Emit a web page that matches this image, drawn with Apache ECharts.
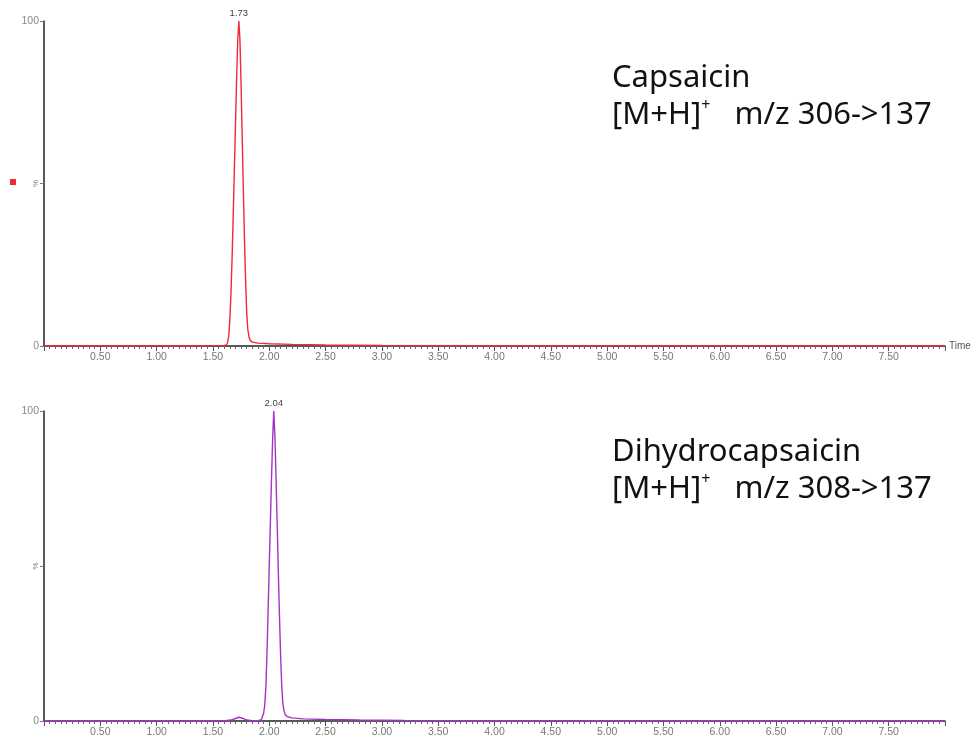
<!DOCTYPE html>
<html>
<head>
<meta charset="utf-8">
<script src="https://cdn.jsdelivr.net/npm/echarts@6/dist/echarts.min.js"></script>
<style>html,body{margin:0;padding:0;background:#fff}#c{width:979px;height:742px}</style>
</head>
<body>
<div id="c"></div>
<script>
// Retention time (min) vs relative intensity (%)
const capsaicinTime = [0,0.5,1.0,1.5,1.60,1.62,1.63,1.64,1.65,1.66,1.67,1.68,1.69,1.70,1.71,1.72,1.73,1.74,1.75,1.76,1.77,1.78,1.79,1.80,1.81,1.82,1.83,1.85,1.90,2.00,2.20,2.50,3.00,4.00,5.00,6.00,7.00,8.00];
const capsaicinInt  = [0.1,0.1,0.1,0.1,0.2,0.3,1,3,8,16,27,40,54,68,82,94,100,94,80,64,48,33,20,10,5,2.8,1.8,1.2,0.9,0.7,0.5,0.3,0.15,0.1,0.1,0.1,0.1,0.1];
const dihydroTime = [0,0.5,1.0,1.5,1.62,1.66,1.70,1.73,1.76,1.80,1.85,1.90,1.93,1.94,1.95,1.96,1.97,1.98,1.99,2.00,2.01,2.02,2.03,2.04,2.05,2.06,2.07,2.08,2.09,2.10,2.11,2.12,2.13,2.14,2.16,2.20,2.30,2.50,2.80,3.20,4.00,5.00,6.00,7.00,8.00];
const dihydroInt  = [0.1,0.1,0.1,0.1,0.15,0.3,0.8,1.2,0.9,0.3,0.1,0.1,0.4,1,2.5,5,11,22,36,50,64,78,91,100,92,79,64,49,35,22,12,6,3.5,2.2,1.4,1.0,0.7,0.5,0.3,0.15,0.1,0.1,0.1,0.1,0.1];
const peakLabels = ['1.73','2.04'];
const compoundNames = ['Capsaicin','Dihydrocapsaicin'];
const transitions = ['306->137','308->137'];
const xTickFormat = v => (v <= 0 || v >= 8) ? '' : v.toFixed(2);

const pairs = (t, v) => t.map((x, i) => [x, v[i]]);

const FONT = 'Noto Sans';
const SMALL = 'Liberation Sans';
function xAxisCfg(gi, withName) {
  return {
    type: 'value', gridIndex: gi, min: 0, max: 8, interval: 0.5,
    name: withName ? 'Time' : '', nameLocation: 'end', nameGap: 4,
    nameTextStyle: {fontSize: 10, color: '#555', fontFamily: SMALL},
    axisLine: {show: true, onZero: false, lineStyle: {color: '#222', width: 1.5}},
    axisTick: {show: true, length: 5, lineStyle: {color: '#555'}},
    minorTick: {show: true, splitNumber: 10, length: 3, lineStyle: {color: '#666'}},
    splitLine: {show: false}, minorSplitLine: {show: false},
    axisLabel: {formatter: xTickFormat, fontSize: 10.5, color: '#777', margin: 6, fontFamily: SMALL}
  };
}
function yAxisCfg(gi) {
  return {
    type: 'value', gridIndex: gi, min: 0, max: 100, interval: 50,
    axisLine: {show: true, lineStyle: {color: '#222', width: 1.5}},
    axisTick: {show: true, length: 4, lineStyle: {color: '#777'}},
    splitLine: {show: false},
    axisLabel: {formatter: v => (v === 50 ? '' : String(v)), fontSize: 10.5, color: '#888', margin: 5, fontFamily: SMALL}
  };
}
// overlay axis only carrying the rotated "%" unit at mid-height
function yUnitCfg(gi) {
  return {
    type: 'value', gridIndex: gi, min: 0, max: 100, interval: 50, position: 'left',
    axisLine: {show: false}, axisTick: {show: false}, splitLine: {show: false},
    axisLabel: {formatter: v => (v === 50 ? '%' : ''), rotate: 90, fontSize: 8, color: '#777', margin: 4, fontFamily: SMALL}
  };
}
function titleCfg(i, top) {
  return {
    left: 607, top: top,
    text: '{a|' + compoundNames[i] + '}\n{a|[M+H]}{s|+}{a|   m/z ' + transitions[i] + '}',
    textStyle: {rich: {
      a: {fontSize: 31, lineHeight: 37, color: '#111', fontFamily: FONT, fontWeight: 'normal'},
      s: {fontSize: 16, lineHeight: 20, verticalAlign: 'top', color: '#111', fontFamily: FONT, fontWeight: 'normal'}
    }}
  };
}
function peakMark(label) {
  return {
    symbol: 'circle', symbolSize: 0.1, silent: true,
    data: [{type: 'max'}],
    label: {show: true, position: 'top', distance: 3, formatter: label, fontSize: 9.5, color: '#444', fontFamily: SMALL}
  };
}

const chart = echarts.init(document.getElementById('c'));
chart.setOption({
  animation: false,
  backgroundColor: '#fff',
  title: [titleCfg(0, 55), titleCfg(1, 429)],
  legend: {
    data: [{name: compoundNames[0], icon: 'rect'}],
    left: 10, top: 179, padding: 0, itemWidth: 6, itemHeight: 6,
    formatter: () => '', itemGap: 0, textStyle: {fontSize: 1}
  },
  grid: [
    {left: 44, top: 21, width: 901, height: 325},
    {left: 44, top: 411, width: 901, height: 310}
  ],
  xAxis: [xAxisCfg(0, true), xAxisCfg(1, false)],
  yAxis: [yAxisCfg(0), yAxisCfg(1), yUnitCfg(0), yUnitCfg(1)],
  series: [
    {name: compoundNames[0], type: 'line', xAxisIndex: 0, yAxisIndex: 0, showSymbol: false, symbol: 'none',
     color: '#ee2a3a', lineStyle: {width: 1.4, color: '#ee2a3a'},
     data: pairs(capsaicinTime, capsaicinInt), markPoint: peakMark(peakLabels[0])},
    {name: compoundNames[1], type: 'line', xAxisIndex: 1, yAxisIndex: 1, showSymbol: false, symbol: 'none',
     color: '#a236c4', lineStyle: {width: 1.4, color: '#a236c4'},
     data: pairs(dihydroTime, dihydroInt), markPoint: peakMark(peakLabels[1])}
  ]
});
</script>
</body>
</html>
